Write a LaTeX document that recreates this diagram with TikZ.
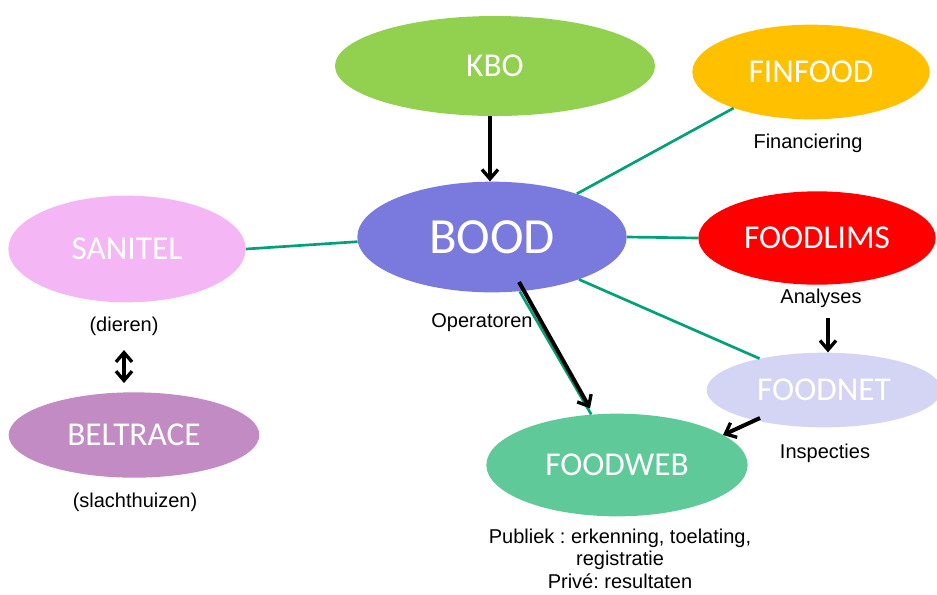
\documentclass[tikz,border=0pt]{standalone}
\usepackage{fontspec}
\setmainfont{Liberation Sans}
\newfontfamily\blobfont{Carlito}
\usetikzlibrary{shapes.geometric,arrows.meta,calc}

\definecolor{kbogreen}{RGB}{146,208,80}
\definecolor{finorange}{RGB}{255,192,0}
\definecolor{boodblue}{RGB}{122,122,222}
\definecolor{sanpink}{RGB}{244,182,244}
\definecolor{limsred}{RGB}{255,0,0}
\definecolor{netlilac}{RGB}{212,212,244}
\definecolor{beltmauve}{RGB}{195,139,195}
\definecolor{webgreen}{RGB}{95,201,154}
\definecolor{linkgreen}{RGB}{0,160,120}

\frenchspacing

\begin{document}
\begin{tikzpicture}[x=0.75pt,y=-0.75pt,
  blob/.style={ellipse,inner sep=0pt,text=white,font=\blobfont\fontsize{25}{30}\selectfont},
  note/.style={font=\fontsize{15}{17}\selectfont,align=center},
  link/.style={linkgreen,line width=2pt},
  push/.style={black,line width=3pt,-{Straight Barb[length=7pt,width=12pt,line width=2.5pt]}}]

\useasboundingbox (0,0) rectangle (937,594);

% The systems
\node[blob,fill=kbogreen,minimum width=240pt,minimum height=75pt] (kbo) at (495,66) {KBO};
\node[blob,fill=finorange,minimum width=178pt,minimum height=71pt] (finfood) at (811,72) {FINFOOD};
\node[blob,fill=boodblue,minimum width=202pt,minimum height=83pt,
      font=\blobfont\fontsize{38}{44}\selectfont] (bood) at (492,237) {BOOD};
\node[blob,fill=sanpink,minimum width=178pt,minimum height=80pt] (sanitel) at (127,249) {SANITEL};
\node[blob,fill=limsred,minimum width=178pt,minimum height=70pt] (foodlims) at (817,238) {FOODLIMS};
\node[blob,fill=netlilac,minimum width=176pt,minimum height=56pt] (foodnet) at (824,390) {FOODNET};
\node[blob,fill=beltmauve,minimum width=188pt,minimum height=64pt] (beltrace) at (134,435) {BELTRACE};
\node[blob,fill=webgreen,minimum width=196pt,minimum height=77pt] (foodweb) at (617,465) {FOODWEB};

% The notes under them
\node[note] (fin) at (808,143) {Financiering};
\node[note] (ana) at (821,298) {Analyses};
\node[note] (ope) at (482,323) {Operatoren};
\node[note] (die) at (124,326) {(dieren)};
\node[note] (ins) at (825,453) {Inspecties};
\node[note] (sla) at (135,502) {(slachthuizen)};
\node[note,anchor=north] (pub) at (620,524) {Publiek : erkenning, toelating,\\registratie\\Priv\'e: resultaten};

% Green links
\draw[link] (bood.27) -- (finfood.205);
\draw[link] (sanitel.east) -- (bood.182);
\draw[link] (bood.east) -- (foodlims.west);
\draw[link] (bood.334) -- (foodnet.154);
\draw[link] (bood.297) -- (foodweb.117);

% Black arrows
\draw[push] (kbo.south -| 490,0) -- (bood.north -| 490,0);
\draw[push] ($(bood.center)+(27,45)$) -- ($(foodweb.north)+(-27,-5)$);
\draw[push] (ana.south -| 828,0) ++(0,6) -- (foodnet.north -| 828,0);
\draw[push] ($(foodnet.center)+(-64,28)$) -- ($(foodweb.center)+(106,-30)$);
\draw[push,{Straight Barb[length=7pt,width=12pt,line width=2.5pt]}-{Straight Barb[length=7pt,width=12pt,line width=2.5pt]}]
  ($(die.south)+(0,10)$) -- ($(beltrace.north)+(-10,-9)$);

\end{tikzpicture}
\end{document}
